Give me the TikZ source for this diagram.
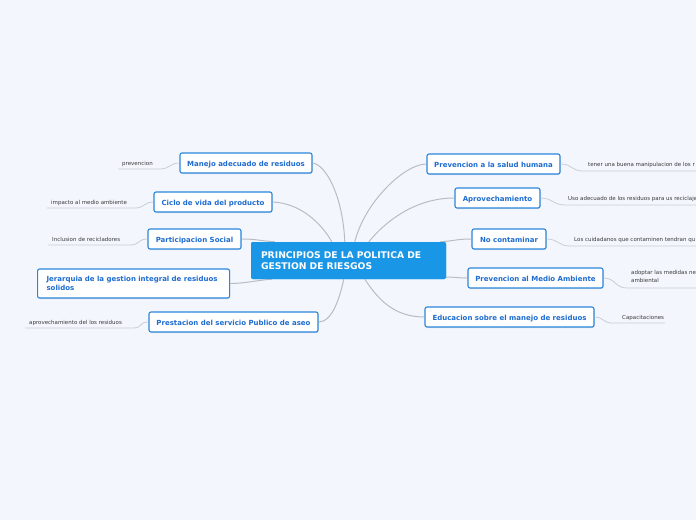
\documentclass[tikz,border=0pt]{standalone}
\usepackage{fontspec}
\setmainfont{DejaVu Sans}
\usetikzlibrary{shadows,calc}
\definecolor{bg}{HTML}{F3F6FD}
\definecolor{cblue}{HTML}{1A96E6}
\definecolor{tborder}{HTML}{2A86DC}
\definecolor{ttext}{HTML}{1E6CD0}
\definecolor{conncol}{HTML}{B8BCC4}
\definecolor{ulcol}{HTML}{C9CDD4}
\definecolor{stext}{HTML}{3A3A3A}
\tikzset{
 topic/.style={draw=tborder, line width=1.1pt, fill=white, rounded corners=2pt,
   minimum height=20pt, inner sep=0pt, font=\fontsize{7}{9}\selectfont\bfseries, text=ttext,
   text height=6.6pt, text depth=0pt,
   drop shadow={shadow xshift=0.5pt, shadow yshift=-1pt, opacity=0.2}},
 sub/.style={font=\fontsize{5.5}{8}\selectfont, text=stext, inner sep=0pt, anchor=base west},
 conn/.style={draw=conncol, line width=1pt},
 ul/.style={draw=ulcol, line width=0.8pt},
 central/.style={fill=cblue, rounded corners=2pt, minimum width=195pt, minimum height=37pt, inner xsep=10pt, inner ysep=0pt,
  text width=175pt, align=left, text=white, font=\fontsize{9.2}{11}\selectfont\bfseries},
}
\begin{document}
\begin{tikzpicture}[x=1pt,y=-1pt]
\fill[bg] (0,0) rectangle (696,520);
\useasboundingbox (0,0) rectangle (696,520);
\clip (0,0) rectangle (696,520);

% central node (placed first for anchors)
\node[central] (c) at (348.5,260.5) {PRINCIPIOS DE LA POLITICA DE\\GESTION DE RIESGOS};

% topics left
\node[topic, minimum width=132pt] (m) at (246,163) {Manejo adecuado de residuos};
\node[topic, minimum width=118pt] (cv) at (213,202) {Ciclo de vida del producto};
\node[topic, minimum width=93pt] (ps) at (194.5,239) {Participacion Social};
\node[topic, anchor=west, minimum height=29pt, inner xsep=9pt, text width=174pt, align=left, text height=5pt, text depth=9pt] (j) at (37,283.5)
  {Jerarquia de la gestion integral de residuos\\solidos};
\node[topic, minimum width=169pt] (pr) at (233.5,322) {Prestacion del servicio Publico de aseo};

% topics right
\node[topic, minimum width=133pt] (sh) at (493.5,164) {Prevencion a la salud humana};
\node[topic, minimum width=85pt] (ap) at (497.5,198) {Aprovechamiento};
\node[topic, minimum width=74pt] (nc) at (509,239) {No contaminar};
\node[topic, minimum width=135pt] (pm) at (535.5,278) {Prevencion al Medio Ambiente};
\node[topic, minimum width=169pt] (ed) at (509.5,317) {Educacion sobre el manejo de residuos};

% connectors to centre
\draw[conn] (m.east) .. controls +(14,2) and +(-2,-45) .. ($(c.north west)+(94,0)$);
\draw[conn] (cv.east) .. controls +(28,1) and +(-10,-18) .. ($(c.north west)+(81,0)$);
\draw[conn] (ps.east) .. controls +(15,0) and +(-15,-1) .. ($(c.north west)+(24,0)$);
\draw[conn] (j.east) .. controls +(15,0) and +(-15,1) .. ($(c.south west)+(21,0)$);
\draw[conn] (pr.east) .. controls +(14,0) and +(-4,18) .. ($(c.south west)+(93,0)$);
\draw[conn] (sh.west) .. controls +(-22,0) and +(10,-40) .. ($(c.north west)+(104,0)$);
\draw[conn] (ap.west) .. controls +(-38,0) and +(18,-22) .. ($(c.north west)+(118,0)$);
\draw[conn] (nc.west) .. controls +(-15,0) and +(15,-1) .. ($(c.north east)+(-6,0)$);
\draw[conn] (pm.west) .. controls +(-10,0) and +(8,0) .. ($(c.east)+(0,16.5)$);
\draw[conn] (ed.west) .. controls +(-32,0) and +(12,18) .. ($(c.south west)+(114,0)$);

% redraw central node on top of the connectors
\node[central] at (c.center) {PRINCIPIOS DE LA POLITICA DE\\GESTION DE RIESGOS};

% left subtopics
\coordinate (u1) at (160,169); \coordinate (u1l) at (118,169);
\node[sub] (s1) at (122,165) {prevencion};
\draw[ul] (m.west) .. controls +(-10,0) and +(10,0) .. (u1) -- (u1l);

\coordinate (u2) at (135,208); \coordinate (u2l) at (47,208);
\node[sub] (s2) at (51,204) {impacto al medio ambiente};
\draw[ul] (cv.west) .. controls +(-10,0) and +(10,0) .. (u2) -- (u2l);

\coordinate (u3) at (130,245); \coordinate (u3l) at (48,245);
\node[sub] (s3) at (52,241) {Inclusion de recicladores};
\draw[ul] (ps.west) .. controls +(-10,0) and +(10,0) .. (u3) -- (u3l);

\coordinate (u4) at (133,328); \coordinate (u4l) at (25,328);
\node[sub] (s4) at (29,324) {aprovechamiento del los residuos};
\draw[ul] (pr.west) .. controls +(-10,0) and +(10,0) .. (u4) -- (u4l);

% right subtopics
\coordinate (v1) at (583,171); \coordinate (v1r) at (700,171);
\node[sub] (r1) at (588,166) {tener una buena manipulacion de los r};
\draw[ul] (sh.east) .. controls +(12,0) and +(-12,0) .. (v1) -- (v1r);

\coordinate (v2) at (565,205); \coordinate (v2r) at (700,205);
\node[sub] (r2) at (568,200) {Uso adecuado de los residuos para us reciclaje};
\draw[ul] (ap.east) .. controls +(12,0) and +(-12,0) .. (v2) -- (v2r);

\coordinate (v3) at (570,246); \coordinate (v3r) at (700,246);
\node[sub] (r3) at (574,241) {Los cuidadanos que contaminen tendran qu};
\draw[ul] (nc.east) .. controls +(12,0) and +(-12,0) .. (v3) -- (v3r);

\coordinate (v4) at (627,288); \coordinate (v4r) at (700,288);
\node[sub, anchor=north west, align=left, font=\fontsize{5.5}{8}\selectfont] (r4) at (631,270.5) {adoptar las medidas ne\\ambiental};
\draw[ul] (pm.east) .. controls +(12,0) and +(-12,0) .. (v4) -- (v4r);

\coordinate (v5) at (612,323); \coordinate (v5r) at (665,323);
\node[sub] (r5) at (622,319) {Capacitaciones};
\draw[ul] (ed.east) .. controls +(9,0) and +(-9,0) .. (v5) -- (v5r);
\end{tikzpicture}
\end{document}
